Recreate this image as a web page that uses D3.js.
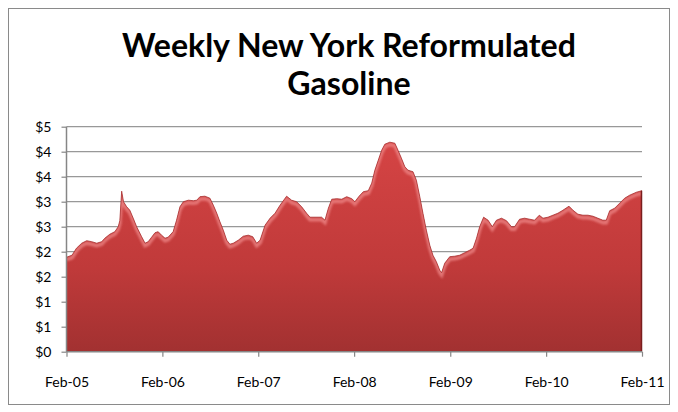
<!DOCTYPE html>
<html>
<head>
<meta charset="utf-8">
<script src="https://cdn.jsdelivr.net/npm/d3@7"></script>
<style>
  body { margin: 0; background: #fff; }
  svg { display: block; }
</style>
</head>
<body>
<div id="chart"></div>
<script>
// Weekly NY reformulated gasoline price, $/gal
const dates = [
  "2005-02-07","2005-02-28","2005-03-17","2005-04-06","2005-04-25","2005-05-14","2005-06-02","2005-06-21",
  "2005-07-03","2005-07-22","2005-08-10","2005-08-23","2005-08-29","2005-09-05","2005-09-12","2005-09-24",
  "2005-10-06","2005-10-19","2005-11-01","2005-11-20","2005-12-03","2005-12-15","2005-12-28","2006-01-10",
  "2006-01-22","2006-02-04","2006-02-17","2006-03-01","2006-03-20","2006-04-02","2006-04-15","2006-04-28",
  "2006-05-17","2006-06-05","2006-06-18","2006-06-30","2006-07-19","2006-08-07","2006-08-20","2006-09-02",
  "2006-09-14","2006-09-27","2006-10-10","2006-10-22","2006-11-04","2006-11-23","2006-12-12","2006-12-31",
  "2007-01-17","2007-02-01","2007-02-14","2007-03-05","2007-03-24","2007-04-12","2007-05-01","2007-05-26",
  "2007-06-14","2007-07-03","2007-07-22","2007-08-10","2007-08-23","2007-09-11","2007-10-06","2007-10-19",
  "2007-11-01","2007-11-14","2007-12-03","2007-12-22","2008-01-10","2008-01-29","2008-02-10","2008-02-26",
  "2008-03-13","2008-04-01","2008-04-14","2008-04-26","2008-05-09","2008-05-22","2008-06-03","2008-06-22",
  "2008-07-11","2008-07-23","2008-08-05","2008-08-18","2008-08-30","2008-09-18","2008-10-01","2008-10-14",
  "2008-10-26","2008-11-08","2008-11-21","2008-12-03","2008-12-16","2008-12-29","2009-01-05","2009-01-17",
  "2009-02-05","2009-02-24","2009-03-15","2009-04-03","2009-04-22","2009-05-05","2009-05-18","2009-05-30",
  "2009-06-14","2009-07-01","2009-07-17","2009-08-02","2009-08-21","2009-09-09","2009-09-28","2009-10-10",
  "2009-10-29","2009-11-17","2009-12-06","2009-12-25","2010-01-12","2010-01-26","2010-02-14","2010-03-05",
  "2010-03-24","2010-04-12","2010-05-05","2010-05-20","2010-06-08","2010-06-27","2010-07-16","2010-08-04",
  "2010-08-23","2010-09-11","2010-09-24","2010-10-07","2010-10-26","2010-11-14","2010-12-03","2010-12-22",
  "2011-01-17","2011-02-07"
];
const prices = [
  1.89, 1.93, 2.07, 2.17, 2.22, 2.20, 2.17, 2.20,
  2.27, 2.35, 2.40, 2.50, 2.62, 3.21, 3.00, 2.90,
  2.83, 2.67, 2.50, 2.30, 2.17, 2.20, 2.29, 2.38,
  2.40, 2.33, 2.27, 2.29, 2.40, 2.63, 2.90, 3.00,
  3.03, 3.02, 3.03, 3.10, 3.11, 3.07, 2.93, 2.77,
  2.60, 2.43, 2.23, 2.15, 2.17, 2.23, 2.31, 2.33,
  2.30, 2.17, 2.23, 2.53, 2.67, 2.77, 2.93, 3.11,
  3.03, 3.00, 2.90, 2.77, 2.69, 2.69, 2.69, 2.63,
  2.87, 3.05, 3.06, 3.05, 3.10, 3.06, 3.00, 3.11,
  3.20, 3.22, 3.37, 3.63, 3.83, 4.03, 4.15, 4.19,
  4.17, 4.03, 3.87, 3.70, 3.63, 3.60, 3.43, 3.10,
  2.77, 2.43, 2.13, 1.93, 1.80, 1.63, 1.58, 1.77,
  1.90, 1.91, 1.93, 1.98, 2.03, 2.07, 2.27, 2.50,
  2.69, 2.63, 2.50, 2.63, 2.67, 2.62, 2.50, 2.50,
  2.65, 2.67, 2.65, 2.63, 2.73, 2.67, 2.69, 2.73,
  2.77, 2.83, 2.91, 2.83, 2.75, 2.73, 2.73, 2.71,
  2.67, 2.63, 2.63, 2.82, 2.87, 2.97, 3.07, 3.13,
  3.19, 3.22
];
const yTicks = [0, 0.5, 1, 1.5, 2, 2.5, 3, 3.5, 4, 4.5];
const yTickLabels = ["$0", "$1", "$1", "$2", "$2", "$3", "$3", "$4", "$4", "$5"];
const xTickDates = ["2005-02-07","2006-02-07","2007-02-07","2008-02-07","2009-02-07","2010-02-07","2011-02-07"];
const xTickLabels = ["Feb-05", "Feb-06", "Feb-07", "Feb-08", "Feb-09", "Feb-10", "Feb-11"];

const width = 678, height = 412;
const margin = { top: 126.7, right: 36, bottom: 60.3, left: 66.5 };
const chartWidth = width - margin.left - margin.right;
const chartHeight = height - margin.top - margin.bottom;

const parse = d3.timeParse("%Y-%m-%d");
const data = dates.map((d, i) => ({ date: parse(d), value: prices[i] }));

const svg = d3.select("#chart").append("svg")
  .attr("width", width)
  .attr("height", height);

// chart frame
svg.append("rect")
  .attr("x", 8.5).attr("y", 8.5)
  .attr("width", 661).attr("height", 396)
  .attr("fill", "#fff")
  .attr("stroke", "#8a8a8a")
  .attr("stroke-width", 1);

// Title
const fontStack = "Lato, 'Open Sans', 'DejaVu Sans', sans-serif";
const title = svg.append("g")
  .attr("font-family", fontStack)
  .attr("font-weight", "bold")
  .attr("text-anchor", "middle")
  .attr("fill", "#000");
const t1 = title.append("text").attr("x", 349).attr("y", 57).text("Weekly New York Reformulated");
const t2 = title.append("text").attr("x", 349).attr("y", 95).text("Gasoline");
// size the title so its first line spans the same width as the original
t1.attr("font-size", 30);
const w30 = t1.node().getComputedTextLength();
const titleSize = 30 * 454 / w30;
t1.attr("font-size", titleSize);
t2.attr("font-size", titleSize);

const g = svg.append("g")
  .attr("transform", `translate(${margin.left},${margin.top})`);

// Scales
const x = d3.scaleTime()
  .domain([parse(xTickDates[0]), parse(xTickDates[xTickDates.length - 1])])
  .range([0, chartWidth]);

const y = d3.scaleLinear()
  .domain([0, 4.5])
  .range([chartHeight, 0]);

// Gridlines
g.append("g")
  .selectAll("line")
  .data(yTicks.slice(1))
  .enter()
  .append("line")
  .attr("x1", 0)
  .attr("x2", chartWidth)
  .attr("y1", d => y(d))
  .attr("y2", d => y(d))
  .attr("stroke", "#989898")
  .attr("stroke-width", 1.3);

// Area with gradient + bevel-ish highlight
const defs = svg.append("defs");
const grad = defs.append("linearGradient")
  .attr("id", "fillGrad")
  .attr("gradientUnits", "userSpaceOnUse")
  .attr("x1", 0).attr("y1", y(4.2))
  .attr("x2", 0).attr("y2", y(0));
grad.append("stop").attr("offset", "0%").attr("stop-color", "#d54444");
grad.append("stop").attr("offset", "60%").attr("stop-color", "#c03a3a");
grad.append("stop").attr("offset", "100%").attr("stop-color", "#a23131");

defs.append("filter").attr("id", "soft")
  .append("feGaussianBlur").attr("stdDeviation", 1.3);

const area = d3.area()
  .x(d => x(d.date))
  .y0(chartHeight)
  .y1(d => y(d.value));

const line = d3.line()
  .x(d => x(d.date))
  .y(d => y(d.value));

defs.append("clipPath").attr("id", "areaClip")
  .append("path").attr("d", area(data));

g.append("path")
  .datum(data)
  .attr("d", area)
  .attr("fill", "url(#fillGrad)");

const bevel = g.append("g").attr("clip-path", "url(#areaClip)");
bevel.append("path")
  .datum(data)
  .attr("d", line)
  .attr("transform", "translate(0,2.5)")
  .attr("fill", "none")
  .attr("stroke", "#ef8a8a")
  .attr("stroke-width", 3.5)
  .attr("opacity", 0.75)
  .attr("filter", "url(#soft)");

g.append("path")
  .datum(data)
  .attr("d", line)
  .attr("fill", "none")
  .attr("stroke", "#a93030")
  .attr("stroke-width", 0.8);

// dark right side of the area
const last = data[data.length - 1];
g.append("line")
  .attr("x1", x(last.date) - 0.5).attr("x2", x(last.date) - 0.5)
  .attr("y1", y(last.value)).attr("y2", chartHeight)
  .attr("stroke", "#7a1e1e")
  .attr("stroke-width", 1.5);

// Axes
const yAxis = g.append("g")
  .call(d3.axisLeft(y).tickValues(yTicks).tickSize(5).tickPadding(10)
    .tickFormat((d, i) => yTickLabels[i]));

const xAxis = g.append("g")
  .attr("transform", `translate(0,${chartHeight})`)
  .call(d3.axisBottom(x).tickValues(xTickDates.map(parse)).tickSize(5).tickPadding(20)
    .tickFormat((d, i) => xTickLabels[i]));

[yAxis, xAxis].forEach(ax => {
  ax.select(".domain").attr("stroke", "#868686").attr("stroke-width", 1.5);
  ax.selectAll(".tick line").attr("stroke", "#868686").attr("stroke-width", 1.2);
  ax.selectAll("text")
    .attr("fill", "#000")
    .style("font-family", fontStack)
    .style("font-size", "14px");
});
yAxis.select(".domain").attr("d", `M0,${chartHeight}V0`);
xAxis.select(".domain").attr("d", `M0,0H${chartWidth}`);
</script>
</body>
</html>
